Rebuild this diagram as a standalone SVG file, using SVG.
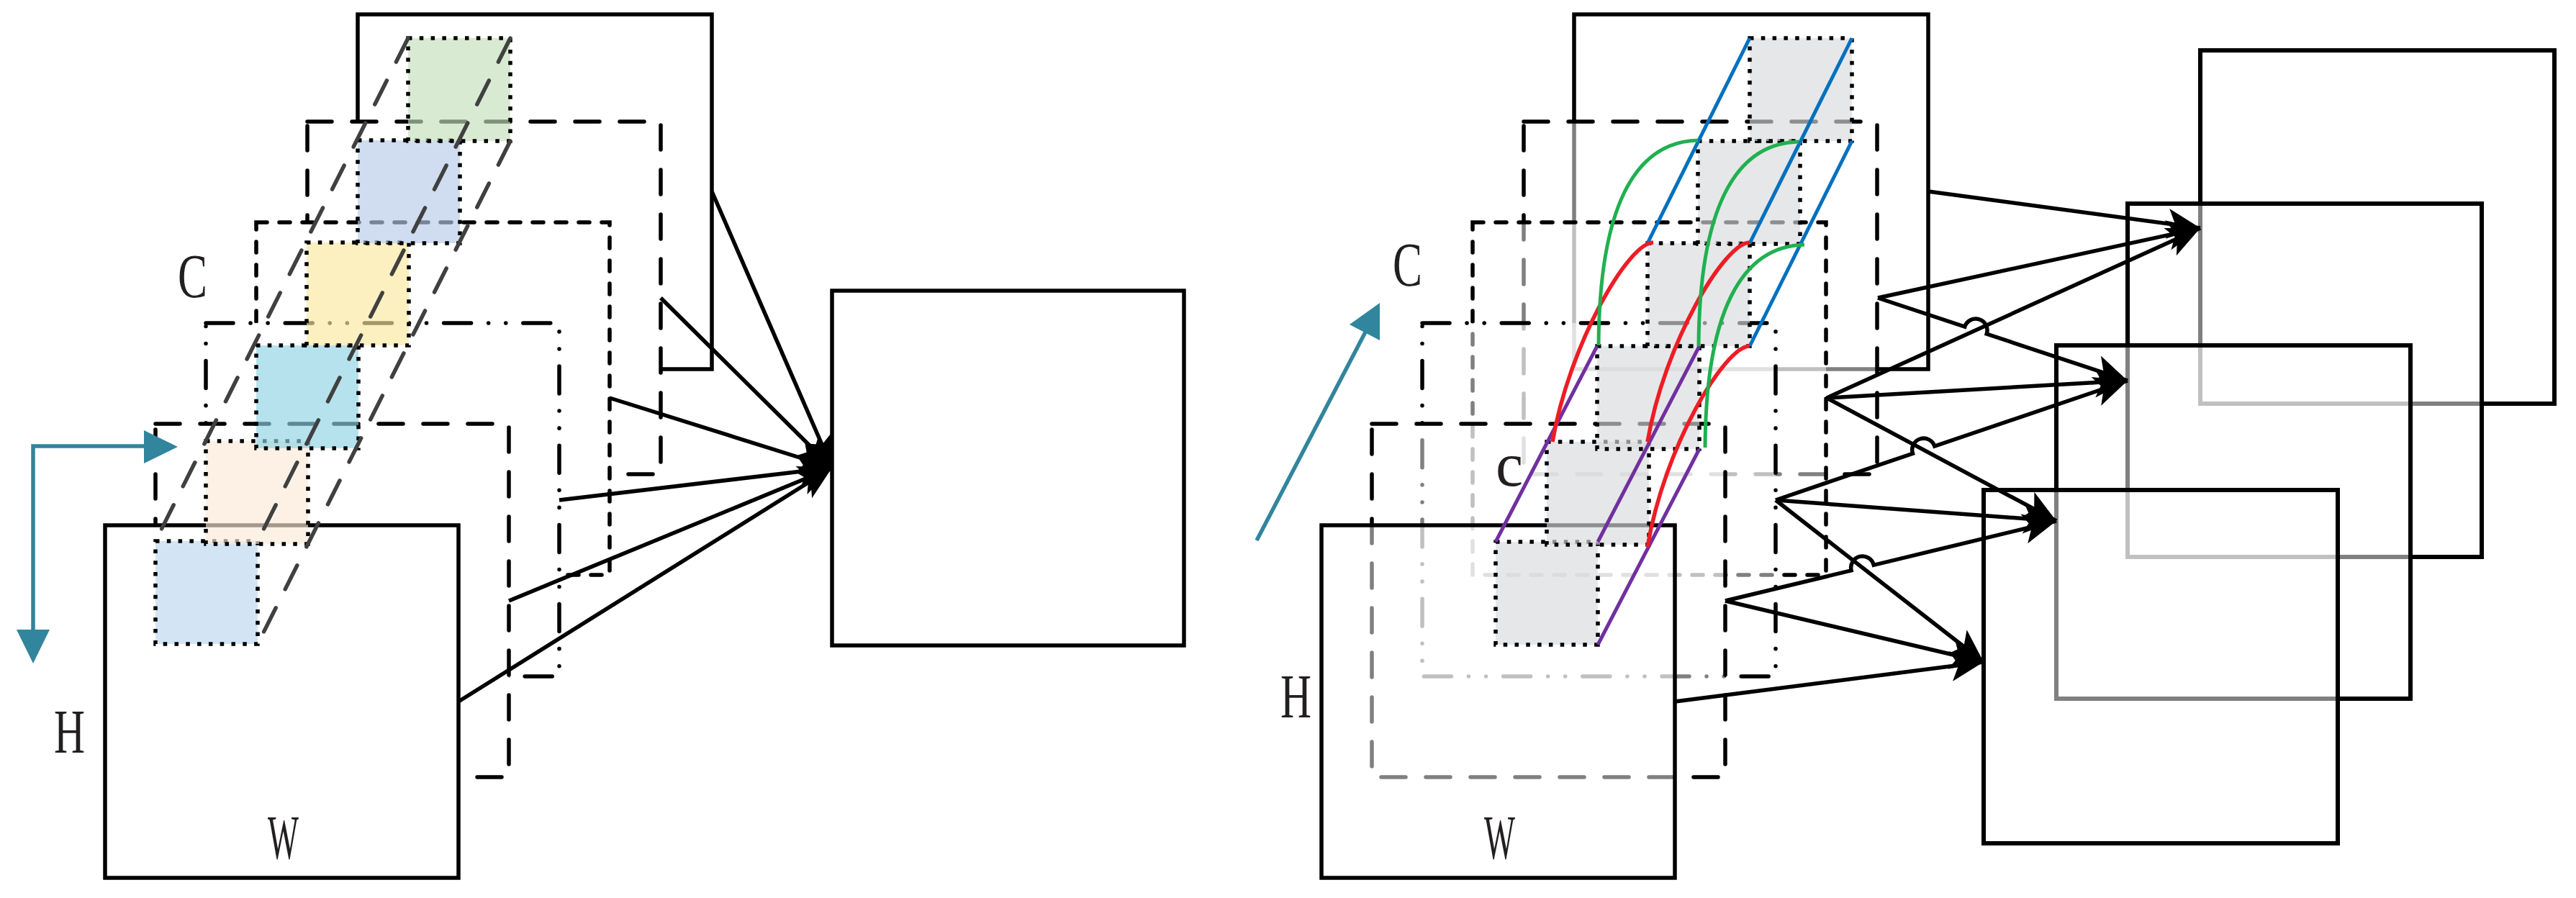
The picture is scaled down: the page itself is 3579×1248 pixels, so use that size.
<svg xmlns="http://www.w3.org/2000/svg" width="3579" height="1248" viewBox="0 0 3579 1248">
<defs>
<style>
.fm{fill:#fff;stroke:#000;stroke-width:5.5;stroke-linecap:round}
.tr{fill:#fff;fill-opacity:0.5;stroke:#000;stroke-width:5.5;stroke-linecap:round}
.ld{stroke-dasharray:34 28}
.sd{stroke-dasharray:15 17}
.dd{stroke-dasharray:38 24 0.1 24 0.1 24}
.sq{stroke:#000;stroke-width:5.5;stroke-dasharray:5.5 10.3;fill-opacity:0.65}
.pr{stroke:#404040;stroke-width:5.5;stroke-dasharray:37 29;stroke-linecap:round;fill:none}
.cn{stroke:#000;stroke-width:5.5;fill:none;marker-end:url(#ah)}
.out{fill:#fff;fill-opacity:0.5;stroke:#000;stroke-width:6}
.lbl{font-family:"Liberation Serif","Times New Roman",serif;font-size:86px;fill:#231F20}
.teal{stroke:#31859C;stroke-width:5.5;fill:none}
.tealf{fill:#31859C}
.cb{stroke:#0070C0;stroke-width:5;fill:none}
.cp{stroke:#7030A0;stroke-width:5;fill:none}
.cr{stroke:#EE1C25;stroke-width:5.5;fill:none}
.cg{stroke:#20B050;stroke-width:5;fill:none}
</style>
<marker id="ah" viewBox="-48 -24 50 48" refX="0" refY="0" markerWidth="50" markerHeight="48" markerUnits="userSpaceOnUse" orient="auto">
<path d="M0,0 L-46,-21 L-35,0 L-46,21 Z" fill="#000"/>
</marker>
</defs>
<rect width="3579" height="1248" fill="#fff"/>

<!-- LEFT STACK -->
<g id="left-stack">
<g id="L1"><rect class="fm" x="497" y="20" width="492" height="493"/></g>
<g id="L2"><rect class="fm ld" x="427" y="169" width="491" height="490"/></g>
<g id="L3"><rect class="fm sd" x="356" y="309" width="491" height="490"/></g>
<g id="L4"><rect class="fm dd" x="286" y="449" width="491" height="491"/></g>
<g id="L5"><rect class="fm ld" x="216" y="589" width="491" height="491"/></g>
<g id="L6"><rect class="fm" x="146" y="730" width="491" height="490"/></g>
</g>
<g id="left-cells">
<rect class="sq" x="216" y="752" width="142" height="143" fill="#BBD7F0"/>
<rect class="sq" x="286" y="613" width="142" height="143" fill="#FCEAD8"/>
<rect class="sq" x="356" y="480" width="142" height="143" fill="#8FD2E3"/>
<rect class="sq" x="426" y="337" width="142" height="143" fill="#FCE89E"/>
<rect class="sq" x="497" y="195" width="142" height="143" fill="#B7C9E6"/>
<rect class="sq" x="567" y="53" width="142" height="143" fill="#C5DFBB"/>
<path class="pr" d="M567,53 L216,752"/>
<path class="pr" d="M709,53 L358,752"/>
<path class="pr" d="M709,196 L358,895"/>
</g>
<g id="left-output"><rect x="1156" y="404" width="489" height="493" fill="#fff" stroke="#000" stroke-width="5.5"/></g>

<!-- RIGHT STACK -->
<g id="right-stack">
<g id="R1"><rect class="tr" x="2187" y="20" width="492" height="493"/></g>
<g id="R2"><rect class="tr ld" x="2117" y="169" width="491" height="490"/></g>
<g id="R3"><rect class="tr sd" x="2046" y="309" width="491" height="490"/></g>
<g id="R4"><rect class="tr dd" x="1976" y="449" width="491" height="491"/></g>
<g id="R5"><rect class="tr ld" x="1906" y="589" width="491" height="491"/></g>
<g id="R6"><rect class="tr" x="1836" y="730" width="491" height="490"/></g>
</g>
<g id="right-cells">
<rect class="sq" x="2078" y="753" width="142" height="143" fill="#D8DADC"/>
<rect class="sq" x="2149" y="614" width="142" height="143" fill="#D8DADC"/>
<rect class="sq" x="2219" y="481" width="142" height="143" fill="#D8DADC"/>
<rect class="sq" x="2289" y="338" width="142" height="143" fill="#D8DADC"/>
<rect class="sq" x="2359" y="196" width="142" height="143" fill="#D8DADC"/>
<rect class="sq" x="2431" y="53" width="142" height="143" fill="#D8DADC"/>
</g>

<!-- OUTPUT STACK -->
<g id="out-stack">
<g id="OA"><rect class="out" x="3057" y="70" width="492" height="491"/></g>
<g id="OB"><rect class="out" x="2956" y="283" width="492" height="491"/></g>
<g id="OC"><rect class="out" x="2857" y="480" width="492" height="491"/></g>
<g id="OD"><rect class="out" x="2756" y="681" width="492" height="491"/></g>
</g>

<!-- CONNECTORS -->
<g id="connectors">
<path class="cn" d="M989,266 L1156,650"/>
<path class="cn" d="M918,414 L1156,650"/>
<path class="cn" d="M847,553 L1156,650"/>
<path class="cn" d="M777,695 L1156,650"/>
<path class="cn" d="M707,835 L1156,650"/>
<path class="cn" d="M637,975 L1156,650"/>

<path class="cn" d="M2679,266 L3057,317"/>
<path class="cn" d="M2609,414 L3057,317"/>
<path class="cn" d="M2609,414 L2729.8,454.1 A16,16 0 0 1 2760.2,464.1 L2956,529"/>
<path class="cn" d="M2538,553 L3057,317"/>
<path class="cn" d="M2538,553 L2956,529"/>
<path class="cn" d="M2538,553 L2857,724"/>
<path class="cn" d="M2467,695 L2657.5,630.3 A16,16 0 0 1 2687.9,620.1 L2956,529"/>
<path class="cn" d="M2467,695 L2857,724"/>
<path class="cn" d="M2467,695 L2756,920"/>
<path class="cn" d="M2397,835 L2572.1,792.8 A16,16 0 0 1 2603.3,785.3 L2857,724"/>
<path class="cn" d="M2397,835 L2756,920"/>
<path class="cn" d="M2327,975 L2756,920"/>

<path class="cb" d="M2431,53 L2289,338"/>
<path class="cb" d="M2573,53 L2431,338"/>
<path class="cb" d="M2573,196 L2431,481"/>
<path class="cp" d="M2219,481 L2078,753"/>
<path class="cp" d="M2361,481 L2220,753"/>
<path class="cp" d="M2361,624 L2220,896"/>
<path class="cr" d="M2297,337 C2262,337 2180,480 2157,614"/>
<path class="cr" d="M2431,337 C2396,337 2312,478 2289,614"/>
<path class="cr" d="M2431,481 C2396,481 2312,622 2289,760"/>
<path class="cg" d="M2359,195 C2270,197 2222,290 2221,480"/>
<path class="cg" d="M2499,197 C2410,199 2361,291 2360,481"/>
<path class="cg" d="M2507,340 C2420,342 2370,432 2369,622"/>

<path class="teal" d="M46,875 L46,620 L202,620"/>
<polygon class="tealf" points="200,598 247,621 200,644"/>
<polygon class="tealf" points="23,875 46,922 69,875"/>
<path class="teal" d="M1746,751 L1902,452"/>
<polygon class="tealf" points="1917,421 1875,451 1917,473"/>
</g>

<!-- LABELS -->
<g id="labels">
<text class="lbl" x="247" y="413" textLength="41" lengthAdjust="spacingAndGlyphs">C</text>
<text class="lbl" x="75" y="1046" textLength="43" lengthAdjust="spacingAndGlyphs">H</text>
<text class="lbl" x="372" y="1193" textLength="43" lengthAdjust="spacingAndGlyphs">W</text>
<text class="lbl" x="1935" y="397" textLength="41" lengthAdjust="spacingAndGlyphs">C</text>
<text class="lbl" x="2078" y="675">c</text>
<text class="lbl" x="1779" y="997" textLength="43" lengthAdjust="spacingAndGlyphs">H</text>
<text class="lbl" x="2062" y="1193" textLength="43" lengthAdjust="spacingAndGlyphs">W</text>
</g>
</svg>
